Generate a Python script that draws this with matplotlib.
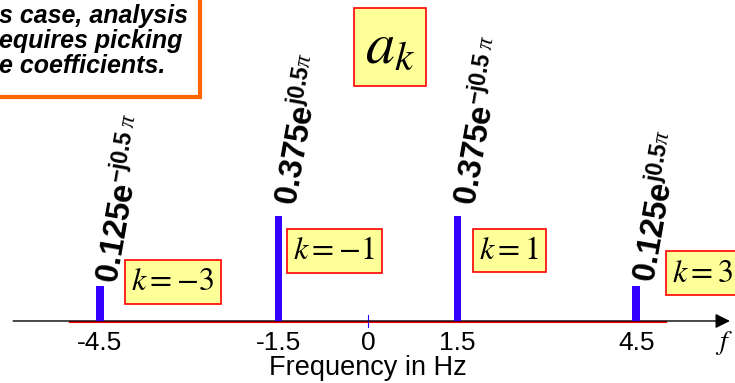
import matplotlib.pyplot as plt
from matplotlib.patches import Rectangle

plt.rcParams['mathtext.fontset'] = 'custom'
plt.rcParams['mathtext.rm'] = 'Liberation Sans'
plt.rcParams['mathtext.bf'] = 'Liberation Sans:bold'
plt.rcParams['mathtext.it'] = 'Liberation Serif:italic'

# spectrum data
freqs = [-4.5, -1.5, 1.5, 4.5]
mags = [0.125, 0.375, 0.375, 0.125]
coef_labels = [r'$\mathbf{0.125e}^{\mathbf{-j0.5}\ \pi}$',
               r'$\mathbf{0.375e}^{\mathbf{j0.5}\pi}$',
               r'$\mathbf{0.375e}^{\mathbf{-j0.5}\ \pi}$',
               r'$\mathbf{0.125e}^{\mathbf{j0.5}\pi}$']
k_labels = [r'$k=-3$', r'$k=-1$', r'$k=1$', r'$k=3$']
tick_vals = [-4.5, -1.5, 0, 1.5, 4.5]
tick_labels = ['-4.5', '-1.5', '0', '1.5', '4.5']
note_lines = ['s case, analysis', 'equires picking', 'e coefficients.']

# layout of the annotation boxes
k_x = [-3.97, -1.25, 1.87, 5.1]
k_y = [0.14, 0.25, 0.252, 0.17]
lab_dy = [0.004, 0.035, 0.035, 0.010]

fig = plt.figure(figsize=(7.35, 3.83), dpi=100)
ax = fig.add_axes([0, 0, 1, 1])
ax.set_xlim(-6.174, 6.158)
ax.set_ylim(-0.2214, 1.146)
ax.axis('off')

# axis with arrow
ax.annotate('', xy=(6.12, 0), xytext=(-6.0, 0),
            arrowprops=dict(arrowstyle='-|>', color='black', lw=1, mutation_scale=22))
ax.plot([-5, 5], [-0.004, -0.004], color='red', lw=1.5, zorder=2)
ax.plot([0, 0], [-0.021, 0.021], color='#3300FF', lw=0.8)

ax.bar(freqs, mags, width=0.13, color='#3300FF', zorder=3)

for t, l in zip(tick_vals, tick_labels):
    ax.text(t, -0.079, l, ha='center', va='center', fontsize=19, family='Liberation Sans')
ax.text(5.97, -0.079, r'$f$', ha='center', va='center', fontsize=20, math_fontfamily='stix')
ax.text(0, -0.168, 'Frequency in Hz', ha='center', va='center', fontsize=19.5, family='Liberation Sans')

for f, m, lab, dy in zip(freqs, mags, coef_labels, lab_dy):
    ax.text(f + 0.31, m + dy, lab, rotation=80, rotation_mode='anchor',
            ha='left', va='baseline', fontsize=23.5)

for x, y, lab in zip(k_x, k_y, k_labels):
    ax.text(x, y, lab, ha='left', va='center', fontsize=23, math_fontfamily='stix',
            bbox=dict(boxstyle='square,pad=0.2', fc='#FFFF99', ec='red', lw=1.2))

# a_k title box
ax.text(390 / 735, 1 - 47 / 383, r'$a_k$', transform=ax.transAxes, ha='center', va='center',
        fontsize=42, math_fontfamily='stix',
        bbox=dict(boxstyle='square,pad=0.18', fc='#FFFF99', ec='red', lw=1.2))

# note box top-left
ax.add_patch(Rectangle((-0.02, 1 - 97 / 383), 0.02 + 200 / 735, 0.3, transform=ax.transAxes,
                       fc='white', ec='#FF6600', lw=3, clip_on=False))
for i, line in enumerate(note_lines):
    ax.text(-1 / 735, 1 - (16 + 25 * i) / 383, line, transform=ax.transAxes,
            ha='left', va='center', fontsize=18, family='Liberation Sans',
            weight='bold', style='italic')

fig.savefig('out.png', dpi=100)
